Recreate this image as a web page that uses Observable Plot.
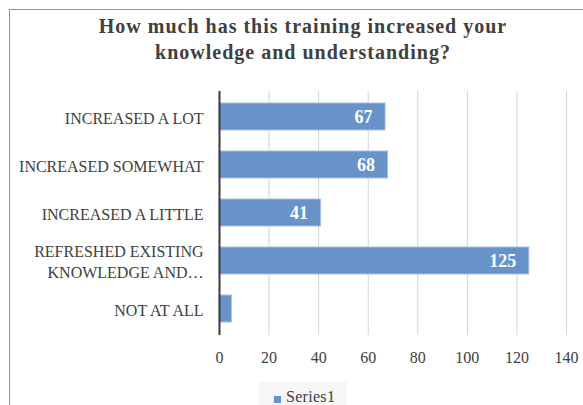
<!DOCTYPE html>
<html><head><meta charset="utf-8">
<script src="https://cdn.jsdelivr.net/npm/d3@7"></script>
<script src="https://cdn.jsdelivr.net/npm/@observablehq/plot@0.6"></script>
<style>
html,body{margin:0;padding:0;background:#fff;}
#wrap{position:relative;width:583px;height:405px;overflow:hidden;}
#frame{position:absolute;left:9px;top:9px;width:600px;height:420px;border-left:1.5px solid #8d939b;border-top:1.5px solid #8d939b;}
#title{position:absolute;left:0;width:606px;top:13px;text-align:center;font-family:"Liberation Serif",serif;font-weight:bold;font-size:20px;letter-spacing:1px;line-height:26px;color:#404040;}
#legend{position:absolute;left:259px;top:382px;width:88px;height:26px;background:#f6f6f6;font-family:"Liberation Serif",serif;font-size:16px;color:#404040;}
#legend span.sw{position:absolute;left:15px;top:14px;width:7px;height:7px;background:#6893c9;}
#legend span.tx{position:absolute;left:27px;top:6px;letter-spacing:0.3px;}
svg{position:absolute;left:0;top:0;}
</style></head>
<body><div id="wrap"><div id="frame"></div>
<div id="title">How much has this training increased your<br>knowledge and understanding?</div>
<div id="chart"></div>
<div id="legend"><span class="sw"></span><span class="tx">Series1</span></div>
</div>
<script>
const categories = ["INCREASED A LOT","INCREASED SOMEWHAT","INCREASED A LITTLE","REFRESHED EXISTING\nKNOWLEDGE AND…","NOT AT ALL"];
const values = [67,68,41,125,5];
const xTicks = [0,20,40,60,80,100,120,140];
const data = categories.map((c,i)=>({category:c,value:values[i]}));
const labeled = data.filter(d=>d.value>=20);
const chart = Plot.plot({
  width:583, height:405,
  marginLeft:219, marginRight:17, marginTop:91, marginBottom:70,
  style:{fontFamily:"Liberation Serif, serif", fontSize:"16px", color:"#404040", background:"transparent"},
  x:{domain:[0,140], label:null},
  y:{domain:categories, paddingInner:0.43, paddingOuter:0.215, label:null},
  marks:[
    Plot.ruleX(xTicks.slice(1),{stroke:"#d4d4d4", strokeWidth:1}),
    Plot.barX(data,{x:"value", y:"category", fill:"#6893c9", stroke:"#a8c0e2", strokeWidth:1}),
    Plot.ruleX([0],{stroke:"#3a3a3a", strokeWidth:2}),
    Plot.axisX({ticks:xTicks, tickSize:0, tickPadding:16, label:null, fontSize:16}),
    Plot.axisY({tickSize:0, tickPadding:16, label:null, lineHeight:1.3, fontSize:16, style:{letterSpacing:"0.2px"}}),
    Plot.text(labeled,{x:"value", y:"category", text:d=>String(d.value), textAnchor:"end", dx:-13, fill:"white", fontWeight:"bold", fontSize:18})
  ]
});
document.getElementById("chart").appendChild(chart);
</script></body></html>
